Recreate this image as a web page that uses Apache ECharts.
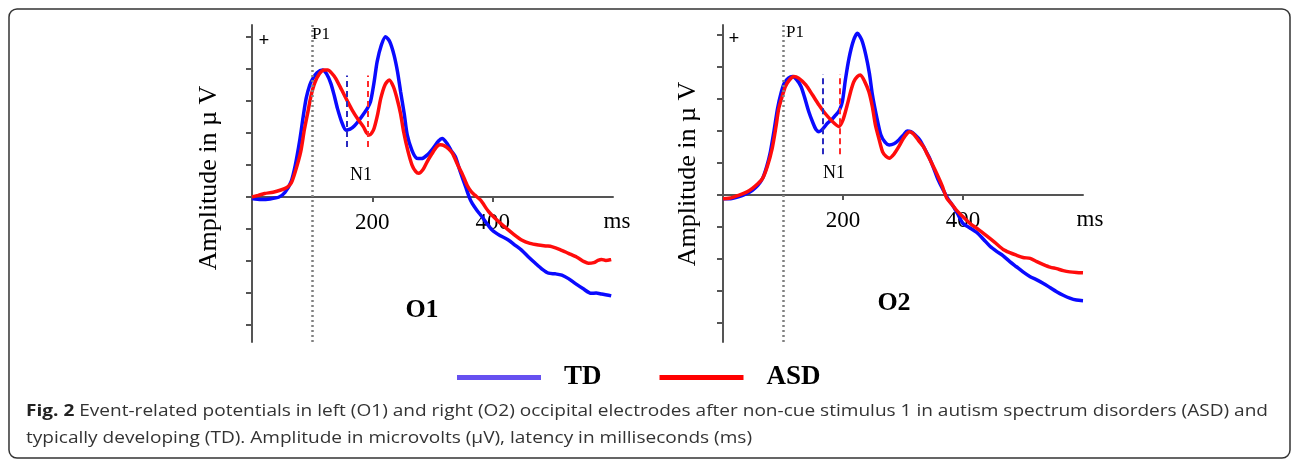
<!DOCTYPE html>
<html>
<head>
    <meta charset="utf-8">
    <title>ERP O1 / O2</title>
    <script src="https://cdn.jsdelivr.net/npm/echarts@6/dist/echarts.min.js"></script>
    <style>
        html, body { margin: 0; padding: 0; background: #fff; }
    </style>
</head>
<body>
<div id="main" style="width: 1292px;height:459px;"></div>
<script type="text/javascript">
    // latency (ms) and amplitude (µV, one tick = 1)
    var o1TdMs = [0, 15, 30, 45, 55, 65, 72, 79, 85, 90, 96, 101, 108, 117, 124, 131, 137, 142, 149, 156, 163, 170, 178, 186, 192, 197, 203, 208, 215, 222, 229, 236, 242, 247, 253, 258, 266, 274, 282, 291, 300, 310, 316, 324, 331, 338, 346, 355, 361, 366, 374, 382, 390, 399, 412, 426, 437, 448, 460, 471, 482, 493, 504, 515, 526, 537, 550, 564, 572, 581, 590, 597];
    var o1TdUv = [-0.05, -0.08, -0.06, 0.0, 0.15, 0.48, 1.0, 1.73, 2.5, 3.08, 3.5, 3.7, 3.88, 3.97, 3.85, 3.55, 3.15, 2.77, 2.35, 2.09, 2.12, 2.22, 2.4, 2.61, 2.78, 2.98, 3.6, 4.23, 4.75, 5.01, 4.85, 4.44, 3.9, 3.29, 2.6, 1.94, 1.45, 1.21, 1.2, 1.31, 1.5, 1.75, 1.83, 1.68, 1.45, 1.26, 0.8, 0.32, 0.0, -0.2, -0.42, -0.61, -0.82, -1.03, -1.2, -1.34, -1.5, -1.66, -1.88, -2.07, -2.25, -2.38, -2.4, -2.44, -2.55, -2.7, -2.86, -3.01, -3.0, -3.03, -3.06, -3.09];

    var o1AsdMs = [0, 10, 21, 35, 48, 58, 65, 72, 81, 87, 93, 98, 104, 112, 120, 126, 132, 139, 149, 159, 167, 175, 185, 190, 195, 199, 203, 209, 214, 221, 228, 235, 241, 247, 252, 259, 266, 272, 277, 284, 291, 299, 307, 313, 320, 327, 333, 342, 350, 358, 365, 371, 380, 393, 407, 421, 434, 448, 462, 476, 490, 498, 512, 526, 540, 552, 559, 568, 575, 581, 588, 597];
    var o1AsdUv = [0.0, 0.05, 0.11, 0.15, 0.22, 0.3, 0.43, 0.8, 1.42, 2.1, 2.67, 3.15, 3.55, 3.85, 3.97, 3.97, 3.88, 3.71, 3.35, 2.98, 2.7, 2.46, 2.2, 2.02, 1.94, 2.0, 2.15, 2.6, 3.08, 3.5, 3.66, 3.45, 3.08, 2.6, 2.04, 1.45, 1.0, 0.8, 0.74, 0.85, 1.1, 1.35, 1.57, 1.63, 1.6, 1.5, 1.37, 1.0, 0.7, 0.35, 0.15, 0.05, -0.1, -0.45, -0.72, -0.95, -1.15, -1.34, -1.45, -1.5, -1.53, -1.55, -1.64, -1.76, -1.88, -2.02, -2.07, -2.05, -1.98, -1.95, -1.98, -1.95];

    var o2TdMs = [0, 10, 27, 40, 49, 58, 66, 73, 79, 85, 91, 97, 102, 109, 116, 123, 130, 136, 143, 150, 155, 160, 167, 174, 181, 188, 194, 199, 204, 210, 217, 224, 231, 238, 244, 249, 256, 263, 270, 277, 285, 293, 301, 307, 313, 320, 328, 336, 343, 350, 358, 367, 375, 384, 392, 400, 411, 423, 434, 445, 456, 467, 478, 489, 500, 512, 523, 534, 545, 556, 567, 578, 589, 600];
    var o2TdUv = [-0.12, -0.12, -0.05, 0.05, 0.15, 0.3, 0.52, 0.9, 1.35, 2.0, 2.71, 3.2, 3.49, 3.65, 3.7, 3.6, 3.39, 3.05, 2.6, 2.25, 2.05, 1.98, 2.08, 2.24, 2.35, 2.5, 2.65, 2.92, 3.6, 4.27, 4.8, 5.05, 4.85, 4.38, 3.8, 3.13, 2.45, 1.88, 1.65, 1.56, 1.6, 1.72, 1.88, 2.0, 1.98, 1.88, 1.72, 1.45, 1.2, 0.89, 0.5, 0.16, -0.12, -0.36, -0.62, -0.89, -1.02, -1.17, -1.38, -1.6, -1.76, -1.9, -2.08, -2.24, -2.4, -2.55, -2.65, -2.76, -2.89, -3.02, -3.13, -3.22, -3.28, -3.3];

    var o2AsdMs = [0, 10, 27, 40, 49, 58, 66, 74, 82, 88, 93, 99, 104, 111, 118, 126, 138, 149, 160, 168, 177, 185, 193, 200, 207, 213, 218, 224, 229, 236, 243, 249, 254, 260, 266, 272, 277, 285, 293, 300, 307, 311, 318, 326, 334, 341, 349, 356, 365, 373, 381, 389, 400, 412, 426, 439, 453, 467, 478, 489, 500, 512, 523, 534, 545, 556, 567, 578, 589, 600];
    var o2AsdUv = [-0.12, -0.1, 0.0, 0.1, 0.21, 0.35, 0.52, 0.9, 1.46, 2.1, 2.71, 3.1, 3.39, 3.6, 3.7, 3.65, 3.44, 3.13, 2.81, 2.6, 2.4, 2.25, 2.14, 2.35, 2.81, 3.25, 3.54, 3.7, 3.75, 3.55, 3.23, 2.75, 2.19, 1.75, 1.35, 1.2, 1.15, 1.28, 1.51, 1.75, 1.93, 1.98, 1.9, 1.7, 1.51, 1.25, 0.95, 0.68, 0.3, -0.1, -0.28, -0.47, -0.68, -0.89, -1.08, -1.27, -1.48, -1.7, -1.8, -1.88, -1.95, -1.98, -2.08, -2.17, -2.25, -2.3, -2.36, -2.4, -2.42, -2.43];

    // N1 latency markers [TD, ASD] and their vertical extent
    var o1N1Ms = [157, 192];
    var o1N1Span = [1.56, 3.8];
    var o2N1Ms = [166, 194];
    var o2N1Span = [1.27, 3.78];
    var p1Ms = 100;

    var xTicks = [200, 400];
    var yTicks = [-4, -3, -2, -1, 0, 1, 2, 3, 4, 5];

    var BLUE = '#0a0aff', RED = '#ff0c0c';
    var SERIF = '"Liberation Serif", "Times New Roman", serif';

    function zip(xs, ys) {
        return xs.map(function (x, i) { return [x, ys[i]]; });
    }

    function vline(ms, span, color) {
        return [{ coord: [ms, span[0]], lineStyle: { color: color, type: [6, 4], width: 2 } },
                { coord: [ms, span[1]] }];
    }

    function wave(name, idx, xs, ys, color, marks) {
        return {
            name: name,
            type: 'line',
            xAxisIndex: idx,
            yAxisIndex: idx,
            data: zip(xs, ys),
            showSymbol: false,
            smooth: 0.25,
            lineStyle: { color: color, width: 3.5 },
            itemStyle: { color: color },
            markLine: {
                silent: true,
                symbol: ['none', 'none'],
                label: { show: false },
                animation: false,
                data: marks
            }
        };
    }

    var axisGray = '#555';
    // x axis sits on the zero line: shift it up from the grid bottom
    function xAx(idx, shift) {
        return {
            type: 'value', gridIndex: idx, min: 0, max: 600,
            offset: -shift,
            axisLine: { onZero: false, lineStyle: { color: axisGray, width: 2 } },
            axisTick: { customValues: xTicks, length: 5, lineStyle: { color: axisGray, width: 2 } },
            axisLabel: { customValues: xTicks, margin: 14, color: '#000', fontFamily: SERIF, fontSize: 23 },
            splitLine: { show: false }
        };
    }
    function yAx(idx, lo, hi) {
        return {
            type: 'value', gridIndex: idx, min: lo, max: hi,
            axisLine: { show: true, onZero: false, lineStyle: { color: axisGray, width: 2 } },
            axisTick: { show: true, customValues: yTicks, length: 6, lineStyle: { color: axisGray, width: 2 } },
            axisLabel: { show: false },
            splitLine: { show: false }
        };
    }

    function txt(x, y, s, size, extra) {
        var el = { type: 'text', x: x, y: y, z: 10,
                   style: { text: s, fontFamily: SERIF, fontSize: size, fill: '#000',
                            align: 'center', verticalAlign: 'middle' } };
        for (var k in extra) {
            if (k === 'rotation') el.rotation = extra[k];
            else el.style[k] = extra[k];
        }
        return el;
    }

    var dotted = { xAxis: p1Ms, lineStyle: { color: '#808080', type: [2, 3], width: 2.5 } };

    var myChart = echarts.init(document.getElementById('main'));
    myChart.setOption({
        animation: false,
        grid: [
            { left: 252, top: 25, width: 361, height: 317 },
            { left: 723, top: 25, width: 360, height: 317 }
        ],
        xAxis: [xAx(0, 145), xAx(1, 147)],
        yAxis: [yAx(0, -4.53, 5.375), yAx(1, -4.59, 5.31)],
        legend: {
            left: 452, top: 359,
            icon: 'rect', itemWidth: 84, itemHeight: 5, itemGap: 58,
            textStyle: { fontFamily: SERIF, fontSize: 27, fontWeight: 'bold', color: '#000', padding: [0, 0, 0, 18] },
            data: [
                { name: 'TD', itemStyle: { color: '#6650f0' } },
                { name: 'ASD', itemStyle: { color: '#ff0000' } }
            ]
        },
        series: [
            wave('TD', 0, o1TdMs, o1TdUv, BLUE, [dotted, vline(o1N1Ms[0], o1N1Span, '#2a2ac0')]),
            wave('ASD', 0, o1AsdMs, o1AsdUv, RED, [vline(o1N1Ms[1], o1N1Span, '#ff2a2a')]),
            wave('TD', 1, o2TdMs, o2TdUv, BLUE, [dotted, vline(o2N1Ms[0], o2N1Span, '#2a2ac0')]),
            wave('ASD', 1, o2AsdMs, o2AsdUv, RED, [vline(o2N1Ms[1], o2N1Span, '#ff2a2a')])
        ],
        graphic: [
            { type: 'rect', shape: { x: 9, y: 9, width: 1281, height: 449, r: 8 },
              style: { fill: 'none', stroke: '#333', lineWidth: 1.5 }, z: 0 },
            txt(209, 178, 'Amplitude in µ V', 26, { rotation: Math.PI / 2 }),
            txt(688, 174, 'Amplitude in µ V', 26, { rotation: Math.PI / 2 }),
            txt(321, 35, 'P1', 17, {}),
            txt(795, 33, 'P1', 17, {}),
            txt(361, 175, 'N1', 18, {}),
            txt(834, 173, 'N1', 18, {}),
            txt(422, 310, 'O1', 26, { fontWeight: 'bold' }),
            txt(894, 303, 'O2', 26, { fontWeight: 'bold' }),
            txt(264, 41, '+', 19, { fontWeight: 'bold' }),
            txt(734, 39, '+', 19, { fontWeight: 'bold' }),
            txt(617, 222, 'ms', 23, {}),
            txt(1090, 220, 'ms', 23, {}),
            {
                type: 'text', x: 26, y: 398, z: 10, scaleX: 1.19,
                style: {
                    text: '{b|Fig. 2} Event-related potentials in left (O1) and right (O2) occipital electrodes after non-cue stimulus 1 in autism spectrum disorders (ASD) and\ntypically developing (TD). Amplitude in microvolts (μV), latency in milliseconds (ms)',
                    fontFamily: '"Open Sans", "Noto Sans", sans-serif', fontSize: 16, lineHeight: 27, fill: '#333',
                    rich: { b: { fontWeight: 'bold', fontFamily: '"Open Sans", sans-serif', fontSize: 16, fill: '#222' } }
                }
            }
        ]
    });
</script>
</body>
</html>
